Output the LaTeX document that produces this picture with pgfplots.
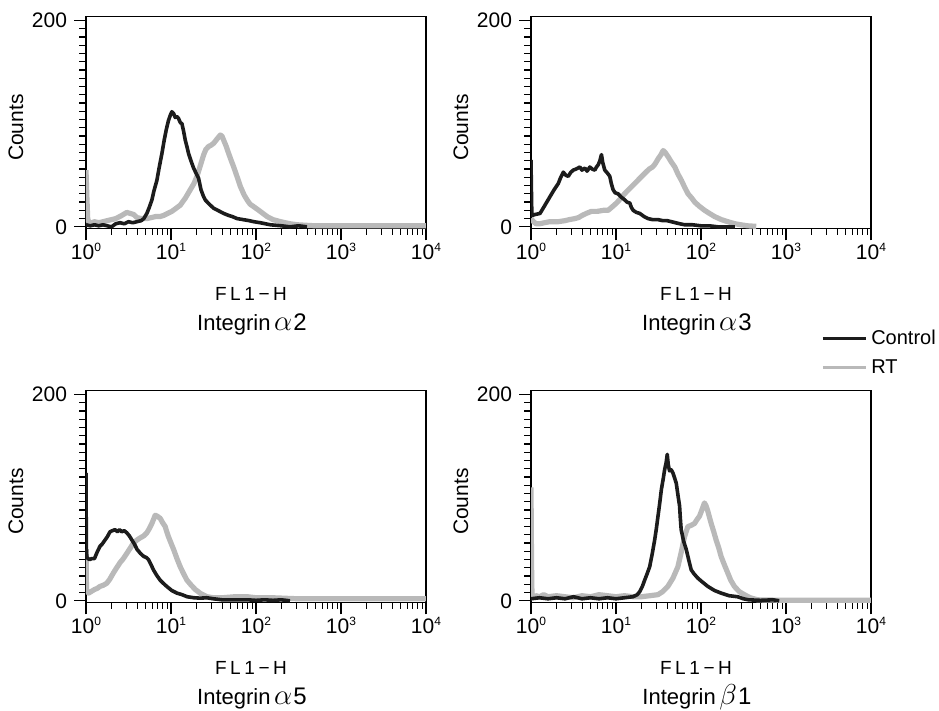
\documentclass[border=0pt]{standalone}
\usepackage{fontspec}
\setmainfont{Liberation Sans}
\usepackage{pgfplots}
\usepackage{pgfplotstable}
\pgfplotsset{compat=1.18}
\definecolor{ctrl}{RGB}{28,28,28}
\definecolor{rtgray}{RGB}{185,185,185}
\newcommand\dec[1]{10\raisebox{3.8pt}{\fontsize{6}{6}\selectfont #1}}
\newcommand\flh{{\fontsize{9.5}{11}\selectfont F\hspace{1.8pt}L\hspace{1.8pt}1\hspace{1.8pt}−\hspace{1.8pt}H}}
\newcommand\greek[2]{\kern1.8pt{\fontsize{14}{15}\selectfont$#1$}\kern0.6pt{\fontsize{12}{13}\selectfont #2}}

% ---- data: lx = log10(FL1-H), y = counts ----
\pgfplotstableread{
lx y
0 2
0.05 1
0.1 2
0.15 1
0.2 2
0.25 1
0.3 0
0.35 3
0.4 4
0.45 3
0.5 5
0.55 4
0.6 5
0.65 6
0.68 8
0.716 13
0.745 19
0.775 26
0.80 35
0.834 45
0.86 57
0.893 71
0.92 84
0.944 94
0.97 103
0.991 108
1.01 111.6
1.03 110
1.05 106
1.07 107
1.089 105
1.11 101
1.129 100
1.15 92
1.168 84
1.19 77
1.207 71
1.235 64
1.266 57
1.295 52
1.325 47
1.353 36
1.38 30
1.404 26
1.45 22
1.502 18
1.55 16
1.62 13
1.68 11
1.72 10
1.778 8
1.85 7
1.92 6
1.974 5
2.05 4
2.17 2
2.3 1
2.4 0
2.5 1
2.6 0
}\ctlA
\pgfplotstableread{
lx y
0 55
0.01 30
0.02 8
0.04 3
0.1 5
0.15 4
0.2 5
0.25 6
0.3 7
0.35 8
0.42 11
0.48 14
0.52 13
0.56 12
0.6 9
0.65 8
0.716 8
0.77 9
0.82 10
0.87 10
0.912 11
0.96 13
1.01 15
1.06 18
1.109 21
1.17 28
1.227 36
1.27 42
1.306 49
1.34 58
1.385 70
1.41 75
1.443 78
1.47 79
1.502 81
1.54 85
1.58 89
1.60 88
1.62 84
1.65 78
1.679 71
1.71 64
1.738 58
1.78 48
1.817 39
1.86 31
1.896 26
1.93 22
1.974 19.5
2.05 15
2.13 10
2.2 7
2.29 5
2.4 3
2.49 2
2.7 1
3.0 1
3.5 1
4.0 1
}\rtA
\pgfplotstableread{
lx y
0 65
0.004 40
0.01 11
0.05 12
0.106 13
0.135 17
0.164 21
0.2 26
0.243 32
0.28 37
0.321 42
0.35 48
0.38 53
0.41 50
0.438 49
0.47 53
0.497 55
0.53 56
0.575 58
0.6 55
0.634 57
0.66 54
0.692 58
0.72 56
0.751 55
0.77 58
0.79 60
0.81 64
0.829 70
0.845 62
0.868 55
0.9 52
0.927 49
0.945 42
0.966 36
0.99 33
1.025 32
1.06 29
1.104 26
1.13 24
1.163 23
1.18 19
1.202 16
1.24 14
1.28 13
1.33 10
1.378 8
1.43 7
1.495 7
1.55 6
1.6 6
1.652 5
1.7 4
1.75 3
1.808 2
1.9 2
2.0 1
2.1 1
2.2 0
2.4 0
}\ctlB
\pgfplotstableread{
lx y
0 8
0.03 5
0.06 3
0.1 3
0.16 4
0.22 5
0.32 5
0.4 6
0.45 7
0.516 8
0.56 9
0.6 11
0.65 13
0.71 15
0.78 15
0.85 16
0.907 16
0.95 19
1.005 23
1.05 27
1.1 32
1.16 37
1.22 42
1.28 47
1.34 52
1.39 56
1.43 58
1.46 61
1.496 66
1.53 70
1.555 74
1.58 72
1.613 68
1.65 63
1.692 58
1.73 51
1.77 45
1.81 38
1.848 32
1.89 28
1.926 24
1.98 20
2.043 16
2.1 13
2.16 10
2.24 7
2.316 5
2.4 3
2.47 2
2.55 1
2.65 0.5
}\rtB
\pgfplotstableread{
lx y
0 124
0.004 52
0.01 42
0.04 40
0.07 41
0.1 41
0.13 47
0.165 53
0.19 55
0.224 59
0.25 62
0.283 67
0.31 68
0.342 69
0.37 67
0.395 69
0.421 67
0.45 68
0.48 66
0.51 63
0.54 59
0.57 55
0.6 50
0.64 46
0.68 43
0.71 42
0.735 40
0.76 36
0.794 30
0.83 25
0.873 20
0.91 17
0.95 14
1.01 10
1.07 7.5
1.13 6
1.19 4
1.27 3
1.345 2.6
1.42 3
1.5 2
1.6 1
1.75 1
1.9 1
2.0 0.5
2.1 1
2.2 0.5
2.3 1
2.4 0
}\ctlC
\pgfplotstableread{
lx y
0 50
0.006 10
0.03 7.5
0.06 9
0.1 11
0.13 12
0.165 14
0.2 15
0.244 17
0.28 21
0.322 27
0.36 32
0.4 37
0.44 41
0.48 46
0.52 51
0.558 56
0.6 59
0.637 61
0.68 63
0.716 66
0.745 70
0.775 75
0.795 79
0.814 83
0.84 82
0.873 80
0.9 76
0.932 72
0.95 67
0.971 62
1.0 56
1.03 50
1.07 41
1.109 33
1.15 26
1.188 20
1.24 15
1.286 11
1.35 7
1.424 4
1.5 3
1.6 3
1.75 4
1.9 4
2.0 3
2.2 3
2.5 2
3.0 2
3.5 2
4.0 2
}\rtC
\pgfplotstableread{
lx y
0 2
0.1 3
0.2 2
0.3 3
0.4 2
0.5 4
0.6 2
0.7 3
0.8 2
0.9 3
1.0 2
1.1 3
1.2 4
1.25 6
1.28 9
1.31 14
1.337 20
1.365 26
1.396 33
1.425 45
1.455 59
1.475 70
1.494 82
1.515 95
1.534 108
1.555 118
1.572 127
1.59 134
1.603 142
1.615 132
1.63 126
1.65 127
1.67 124
1.69 119
1.709 114
1.728 103
1.748 92
1.757 80
1.767 69
1.795 58
1.826 50
1.855 40
1.885 30
1.92 26
1.963 22
2.02 18
2.08 14
2.16 10
2.237 7.5
2.33 5
2.43 4
2.5 2
2.56 1
2.7 0.5
2.85 1
2.92 0
}\ctlD
\pgfplotstableread{
lx y
0 110
0.006 40
0.012 3
0.06 5
0.1 4
0.15 6
0.2 4
0.3 5
0.4 4
0.5 3
0.6 5
0.7 4
0.8 6
0.9 5
1.0 4
1.1 5
1.2 4
1.3 4
1.4 5
1.494 6
1.55 9
1.61 14
1.67 22
1.728 33
1.77 48
1.806 62
1.845 72
1.88 73
1.924 75
1.955 79
1.982 82
2.01 88
2.041 95
2.06 92
2.08 87
2.1 81
2.12 75
2.15 67
2.178 59
2.21 51
2.237 43
2.275 35
2.315 27
2.35 20
2.393 14
2.45 9
2.51 6
2.58 3
2.667 1
3.0 0.5
3.5 0.5
4.0 0.5
}\rtD

\pgfplotsset{
  every axis/.append style={
    scale only axis, width=170pt, height=106pt,
    xmin=1, xmax=10000, ymin=-1.5, ymax=204,
    clip mode=individual,
    axis line style={line width=0.6pt},
    tick align=outside, xtick pos=left, ytick pos=left,
    xtick={1,10,100,1000,10000},
    xticklabels={\dec{0},\dec{1},\dec{2},\dec{3},\dec{4}},
    minor xtick={2,3,4,5,6,7,8,9,20,30,40,50,60,70,80,90,200,300,400,500,600,700,800,900,2000,3000,4000,5000,6000,7000,8000,9000},
    ytick={0,200}, yticklabels={0,200},
    minor ytick={8,16,24,32,40,48,56,64,72,80,88,96,104,112,120,128,136,144,152,160,168,176,184,192},
    major tick length=6pt, minor tick length=3.3pt,
    tick style={black, line width=0.6pt},
    tick label style={font=\fontsize{10.5}{12}\selectfont},
    xticklabel style={yshift=2pt},
  },
}
\tikzset{
  ctlplot/.style={color=ctrl, line width=1.8pt, line join=round},
  rtplot/.style={color=rtgray, line width=2.6pt, line join=round},
}

\newcommand\panel[1]{%
  \node[rotate=90, font=\fontsize{10.5}{12}\selectfont] at ([xshift=-35pt]rel axis cs:0,0.475) {Counts};
  \node[anchor=base] at ([xshift=-2.5pt,yshift=-35.85pt]rel axis cs:0.5,0) {\flh};
  \node[anchor=base, font=\fontsize{11}{13}\selectfont] at ([xshift=-2pt,yshift=-50.85pt]rel axis cs:0.5,0) {#1};
}

\begin{document}
\begin{tikzpicture}
\path[use as bounding box] (0,0) rectangle (469.5pt,-355.5pt);

\begin{semilogxaxis}[at={(43pt,-114.2pt)}, anchor=south west]
  \addplot[rtplot] table[x expr=10^\thisrow{lx}, y=y] {\rtA};
  \addplot[ctlplot] table[x expr=10^\thisrow{lx}, y=y] {\ctlA};
  \panel{Integrin\greek{\alpha}{2}}
\end{semilogxaxis}

\begin{semilogxaxis}[at={(265.5pt,-114.2pt)}, anchor=south west,
  legend style={at={(rel axis cs:0.835,-0.588)}, anchor=west, draw=none, fill=none,
    font=\fontsize{10}{12}\selectfont, row sep=2pt},
  legend cell align=left,
  legend image code/.code={\draw[#1] (0pt,0pt) -- (21.5pt,0pt);}]
  \addlegendimage{color=ctrl, line width=1.4pt}
  \addlegendentry{Control}
  \addlegendimage{color=rtgray, line width=1.5pt}
  \addlegendentry{RT}
  \addplot[rtplot, forget plot] table[x expr=10^\thisrow{lx}, y=y] {\rtB};
  \addplot[ctlplot, forget plot] table[x expr=10^\thisrow{lx}, y=y] {\ctlB};
  \panel{Integrin\greek{\alpha}{3}}
\end{semilogxaxis}

\begin{semilogxaxis}[at={(43pt,-301.2pt)}, anchor=south west]
  \addplot[rtplot] table[x expr=10^\thisrow{lx}, y=y] {\rtC};
  \addplot[ctlplot] table[x expr=10^\thisrow{lx}, y=y] {\ctlC};
  \panel{Integrin\greek{\alpha}{5}}
\end{semilogxaxis}

\begin{semilogxaxis}[at={(265.5pt,-301.2pt)}, anchor=south west]
  \addplot[rtplot] table[x expr=10^\thisrow{lx}, y=y] {\rtD};
  \addplot[ctlplot] table[x expr=10^\thisrow{lx}, y=y] {\ctlD};
  \panel{Integrin\greek{\beta}{1}}
\end{semilogxaxis}
\end{tikzpicture}
\end{document}
